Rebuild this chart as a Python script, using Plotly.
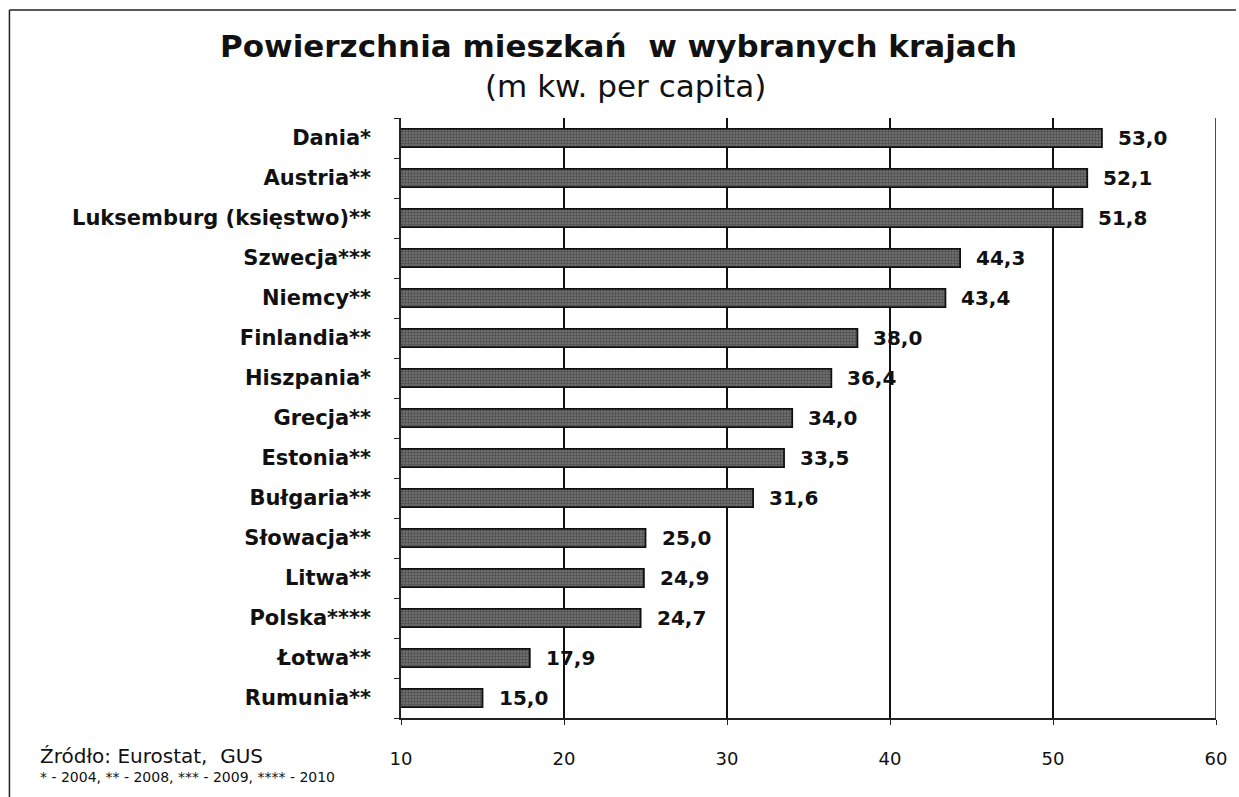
import plotly.graph_objects as go

countries = ["Dania*", "Austria**", "Luksemburg (księstwo)**", "Szwecja***", "Niemcy**",
             "Finlandia**", "Hiszpania*", "Grecja**", "Estonia**", "Bułgaria**",
             "Słowacja**", "Litwa**", "Polska****", "Łotwa**", "Rumunia**"]
values = [53.0, 52.1, 51.8, 44.3, 43.4, 38.0, 36.4, 34.0, 33.5, 31.6, 25.0, 24.9, 24.7, 17.9, 15.0]
x_ticks = [10, 20, 30, 40, 50, 60]
value_labels = [f"{v:.1f}".replace(".", ",") for v in values]

FONT = "DejaVu Sans"

W, H = 1239, 797
L, R, T, B = 401, 20, 118, 79
pw, ph = W - L - R, H - T - B


def px(xpix):
    return (xpix - L) / pw


def py(ypix):
    return (H - B - ypix) / ph


fig = go.Figure()
fig.add_trace(go.Bar(
    y=countries, x=values, orientation="h", base=0,
    width=0.46,
    marker=dict(color="#555555", line=dict(color="#111111", width=1.8),
                pattern=dict(shape=".", fgcolor="#222222", bgcolor="#777777", size=3, solidity=0.5)),
    showlegend=False, hoverinfo="skip",
))

annotations = []
for c, v, t in zip(countries, values, value_labels):
    annotations.append(dict(x=v, y=c, xref="x", yref="y", text=f"<b>{t}</b>",
                            showarrow=False, xanchor="left", xshift=14,
                            font=dict(family=FONT, size=20, color="#111")))

annotations += [
    dict(x=px(619), y=py(46), xref="paper", yref="paper",
         text="<b>Powierzchnia mieszkań  w wybranych krajach</b>", showarrow=False,
         xanchor="center", yanchor="middle", font=dict(family=FONT, size=31, color="#111")),
    dict(x=px(626), y=py(86), xref="paper", yref="paper",
         text="(m kw. per capita)", showarrow=False,
         xanchor="center", yanchor="middle", font=dict(family=FONT, size=31, color="#111")),
    dict(x=px(37), y=py(756), xref="paper", yref="paper",
         text="Źródło: Eurostat,  GUS", showarrow=False,
         xanchor="left", yanchor="middle", font=dict(family=FONT, size=20, color="#111")),
    dict(x=px(37), y=py(777), xref="paper", yref="paper",
         text="* - 2004, ** - 2008, *** - 2009, **** - 2010", showarrow=False,
         xanchor="left", yanchor="middle", font=dict(family=FONT, size=14, color="#111")),
]

shapes = [
    dict(type="line", xref="paper", yref="paper", x0=px(8), x1=px(1239), y0=py(10), y1=py(10),
         line=dict(color="#222", width=1.5)),
    dict(type="line", xref="paper", yref="paper", x0=px(8), x1=px(8), y0=py(10), y1=py(797),
         line=dict(color="#222", width=1.5)),
    dict(type="line", xref="x", yref="paper", x0=x_ticks[-1], x1=x_ticks[-1], y0=0, y1=1,
         line=dict(color="#111", width=1.5), layer="below"),
]

fig.update_layout(
    width=W, height=H,
    margin=dict(l=L, r=R, t=T, b=B),
    paper_bgcolor="white", plot_bgcolor="white",
    annotations=annotations, shapes=shapes,
    xaxis=dict(range=[10, 60], tickvals=x_ticks, ticktext=[str(v) for v in x_ticks],
               showgrid=True, gridcolor="#111", gridwidth=1.5,
               showline=True, linecolor="#222", linewidth=1.5,
               ticks="outside", ticklen=5, tickcolor="#222",
               ticklabelstandoff=19, zeroline=False,
               tickfont=dict(family=FONT, size=18, color="#111")),
    yaxis=dict(categoryorder="array", categoryarray=countries, autorange="reversed",
               showline=True, linecolor="#222", linewidth=1.5,
               ticks="outside", ticklen=5, tickcolor="#222", tickson="boundaries",
               ticklabelstandoff=24, showgrid=False,
               tickfont=dict(family=FONT, size=21, color="#111")),
)
fig.update_yaxes(tickmode="array", tickvals=countries,
                 ticktext=[f"<b>{c}</b>" for c in countries])

fig.write_html("out.html", config={"displayModeBar": False},
               post_script="document.body.style.margin='0';")
